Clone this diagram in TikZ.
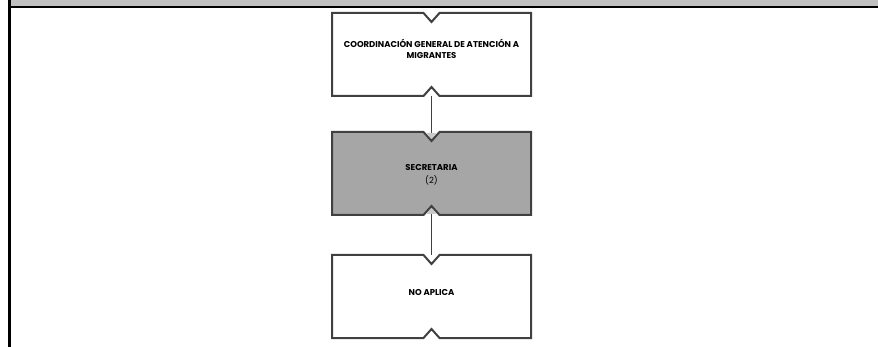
\documentclass[tikz,border=0pt]{standalone}
\usepackage{fontspec}
\setmainfont{Poppins}
\usetikzlibrary{calc,arrows.meta}

\definecolor{bandgray}{HTML}{C0C0C0}
\definecolor{edgegray}{HTML}{404040}
\definecolor{fillgray}{HTML}{A6A6A6}
\definecolor{linkgray}{HTML}{404040}
\definecolor{tipgray}{HTML}{C8C8C8}

% outline of a box with a notch cut into the top and bottom edges
\newcommand\notchedoutline[2]{%
  \draw[boxline,#2] (#1.north west) -- ($(#1.north)+(-8,0)$) -- ($(#1.north)+(0,9)$)
    -- ($(#1.north)+(8,0)$) -- (#1.north east) -- (#1.south east)
    -- ($(#1.south)+(8,0)$) -- ($(#1.south)+(0,-9)$) -- ($(#1.south)+(-8,0)$)
    -- (#1.south west) -- cycle;}

\begin{document}
\begin{tikzpicture}[x=1pt,y=-1pt,
  frame/.style={shape=rectangle,draw=none,minimum width=199pt,minimum height=83pt,inner sep=0pt,outer sep=0pt},
  boxline/.style={draw=edgegray,line width=2pt,line join=miter},
  lbl/.style={font=\fontsize{8.5}{11}\selectfont\bfseries,align=center,inner sep=0pt,text=black},
  link/.style={draw=linkgray,line width=1.5pt,-{Triangle[width=9pt,length=7pt,color=tipgray]}}]

\useasboundingbox (0,0) rectangle (878,347);

% header band and frame lines
\fill[bandgray] (10.5,0) rectangle (878,6.5);
\draw[black,line width=2pt] (10.5,7.3) -- (878,7.3);
\draw[black,line width=2.3pt] (9.5,0) -- (9.5,347);

% box frames
\node[frame] (b1) at (431.5,54.5) {};
\node[frame] (b2) at (431.5,173.5) {};
\node[frame] (b3) at (431.5,296.5) {};

% connectors
\draw[link] (b1.south) -- ($(b2.north)+(0,8)$);
\draw[link] (b3.north) -- ($(b2.south)+(0,-8)$);

% outlines
\notchedoutline{b1}{fill=white}
\notchedoutline{b2}{fill=fillgray}
\notchedoutline{b3}{fill=white}

% texts
\node[lbl] (t1) at (431.5,48.5) {COORDINACIÓN GENERAL DE ATENCIÓN A\\MIGRANTES};
\node[lbl,font=\fontsize{8.5}{13}\selectfont\bfseries] (t2) at (431.5,174.5) {SECRETARIA\\{\mdseries (2)}};
\node[lbl] (t3) at (431.5,293) {NO APLICA};
\end{tikzpicture}
\end{document}
